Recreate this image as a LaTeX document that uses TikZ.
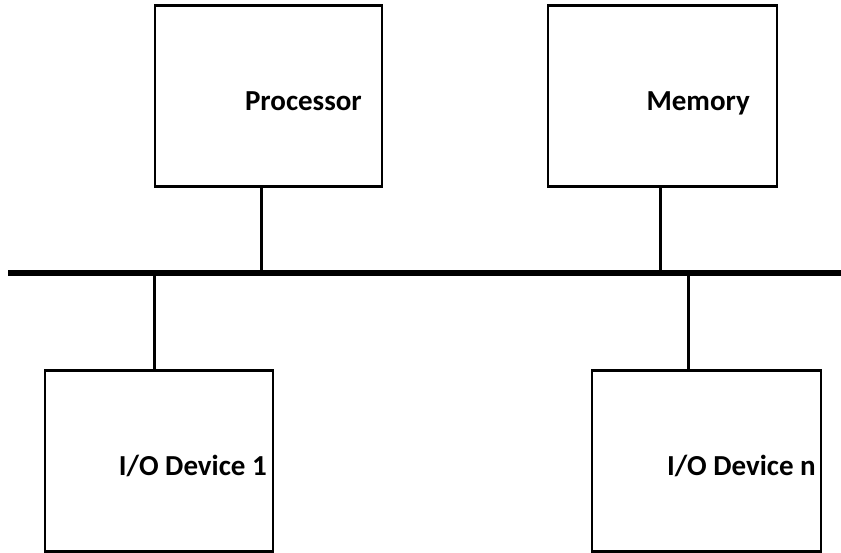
\documentclass[tikz,border=0pt]{standalone}
\usepackage{fontspec}
\setmainfont{Carlito}
\usetikzlibrary{calc}
\begin{document}
\begin{tikzpicture}[x=1pt,y=-1pt,
  unit/.style={draw=black,line width=2.6pt,minimum width=#1,minimum height=181pt,inner sep=0pt,outer sep=0pt},
  caption/.style={anchor=base east,inner sep=0pt,font=\fontsize{29pt}{32pt}\selectfont\bfseries},
  tap/.style={line width=3pt},
  bus/.style={line width=5.5pt}]
\useasboundingbox (0,0) rectangle (841,552);
% system bus
\coordinate (busL) at (8,273);
\coordinate (busR) at (841,273);
\draw[bus] (busL) -- (busR);
% units
\node[unit=227pt] (proc) at (268.5,96) {};
\node[unit=229pt] (mem)  at (662.5,96) {};
\node[unit=228pt] (io1)  at (159,461) {};
\node[unit=229pt] (ion)  at (706.5,461) {};
% labels
\node[caption] (tproc) at (362,110) {Processor};
\node[caption] (tmem)  at (750,110) {Memory};
\node[caption] (tio1)  at (267,475.5) {I/O Device 1};
\node[caption] (tion)  at (816,475.5) {I/O Device n};
% taps onto the bus
\coordinate (pp) at ($(proc.south west)!0.471!(proc.south east)$);
\coordinate (mp) at ($(mem.south west)!0.493!(mem.south east)$);
\coordinate (ip) at ($(io1.north west)!0.482!(io1.north east)$);
\coordinate (np) at ($(ion.north west)!0.42!(ion.north east)$);
\draw[tap] (pp) -- (pp |- busL);
\draw[tap] (mp) -- (mp |- busL);
\draw[tap] (ip) -- (ip |- busL);
\draw[tap] (np) -- (np |- busL);
\end{tikzpicture}
\end{document}
